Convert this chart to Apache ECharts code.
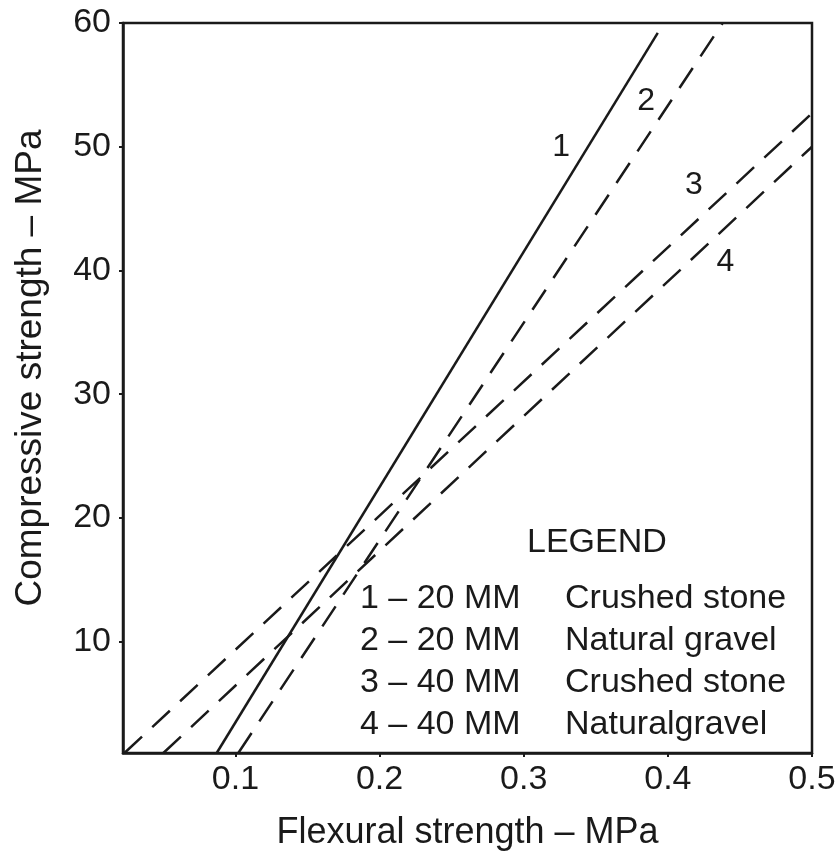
<!DOCTYPE html>
<html>
<head>
<meta charset="utf-8">
<script src="https://cdn.jsdelivr.net/npm/echarts@6/dist/echarts.min.js"></script>
<style>html,body{margin:0;padding:0;background:#fff}#c{width:840px;height:857px}</style>
</head>
<body>
<div id="c"></div>
<script>
const xTicks = [0.1, 0.2, 0.3, 0.4, 0.5];
const yTicks = [10, 20, 30, 40, 50, 60];
const lineIds = ['1', '2', '3', '4'];
const aggregateSizes = ['20 MM', '20 MM', '40 MM', '40 MM'];
const aggregateTypes = ['Crushed stone', 'Natural gravel', 'Crushed stone', 'Naturalgravel'];
// [flexural strength MPa, compressive strength MPa]
const line1 = [[0.087, 1], [0.393, 59.2]];
const line2 = [[0.102, 1], [0.438, 60]];
const line3 = [[0.023, 1], [0.5, 52.7]];
const line4 = [[0.050, 1], [0.5, 50.0]];
const lines = [line1, line2, line3, line4];
const labelAt = [[0.326, 50.0], [0.385, 53.7], [0.418, 46.9], [0.440, 40.7]];

const FONT = "'Liberation Sans', Arial, sans-serif";
const INK = '#1a1a1a';
const names = lineIds.map((id, i) => id + ' – ' + aggregateSizes[i] + '  ' + aggregateTypes[i]);

const chart = echarts.init(document.getElementById('c'));
chart.setOption({
  backgroundColor: '#fff',
  animation: false,
  textStyle: { fontFamily: FONT, color: INK },
  grid: { left: 123, right: 28, top: 23, bottom: 104, containLabel: false, outerBoundsMode: 'none',
    show: true, borderColor: INK, borderWidth: 2.5, backgroundColor: 'transparent' },
  title: {
    text: 'LEGEND', left: 522, top: 521,
    textStyle: { fontFamily: FONT, fontSize: 34, fontWeight: 'normal', color: INK }
  },
  legend: {
    orient: 'vertical', left: 355, top: 582, padding: 0,
    icon: 'none', itemWidth: 0, itemHeight: 0, itemGap: 8,
    selectedMode: false,
    data: names,
    formatter: function (name) {
      const i = names.indexOf(name);
      return '{a|' + lineIds[i] + ' – ' + aggregateSizes[i] + '}{b|' + aggregateTypes[i] + '}';
    },
    textStyle: {
      fontFamily: FONT, fontSize: 34, color: INK, lineHeight: 34,
      rich: {
        a: { width: 205, fontFamily: FONT, fontSize: 34, color: INK },
        b: { fontFamily: FONT, fontSize: 34, color: INK }
      }
    }
  },
  xAxis: {
    type: 'value', min: 0.022, max: 0.5,
    name: 'Flexural strength – MPa', nameLocation: 'middle', nameGap: 62,
    nameTextStyle: { fontFamily: FONT, fontSize: 36, color: INK },
    axisLine: { show: true, lineStyle: { color: INK, width: 2.5 } },
    axisTick: { show: true, length: 4, customValues: xTicks, lineStyle: { color: INK, width: 2 } },
    axisLabel: { customValues: xTicks, fontFamily: FONT, fontSize: 34, color: INK, margin: 10,
      formatter: v => String(Math.round(v * 10) / 10) },
    splitLine: { show: false }
  },
  yAxis: {
    type: 'value', min: 1, max: 60,
    name: 'Compressive strength – MPa', nameLocation: 'middle', nameGap: 74,
    nameTextStyle: { fontFamily: FONT, fontSize: 37, color: INK, padding: [0, 0, 0, 40] },
    axisLine: { show: true, lineStyle: { color: INK, width: 2.5 } },
    axisTick: { show: true, length: 4, customValues: yTicks, lineStyle: { color: INK, width: 2 } },
    axisLabel: { customValues: yTicks, fontFamily: FONT, fontSize: 34, color: INK, margin: 12 },
    splitLine: { show: false }
  },
  series: lines.map((d, i) => ({
    name: names[i],
    type: 'line',
    data: d,
    symbol: 'none',
    lineStyle: { color: INK, width: 2.5, type: i === 0 ? 'solid' : [24, 14] },
    markPoint: {
      symbol: 'circle', symbolSize: 1,
      itemStyle: { color: 'rgba(0,0,0,0)' },
      label: { show: true, position: 'inside', formatter: lineIds[i], fontFamily: FONT, fontSize: 32, color: INK },
      data: [{ coord: labelAt[i] }]
    }
  }))
});
</script>
</body>
</html>
